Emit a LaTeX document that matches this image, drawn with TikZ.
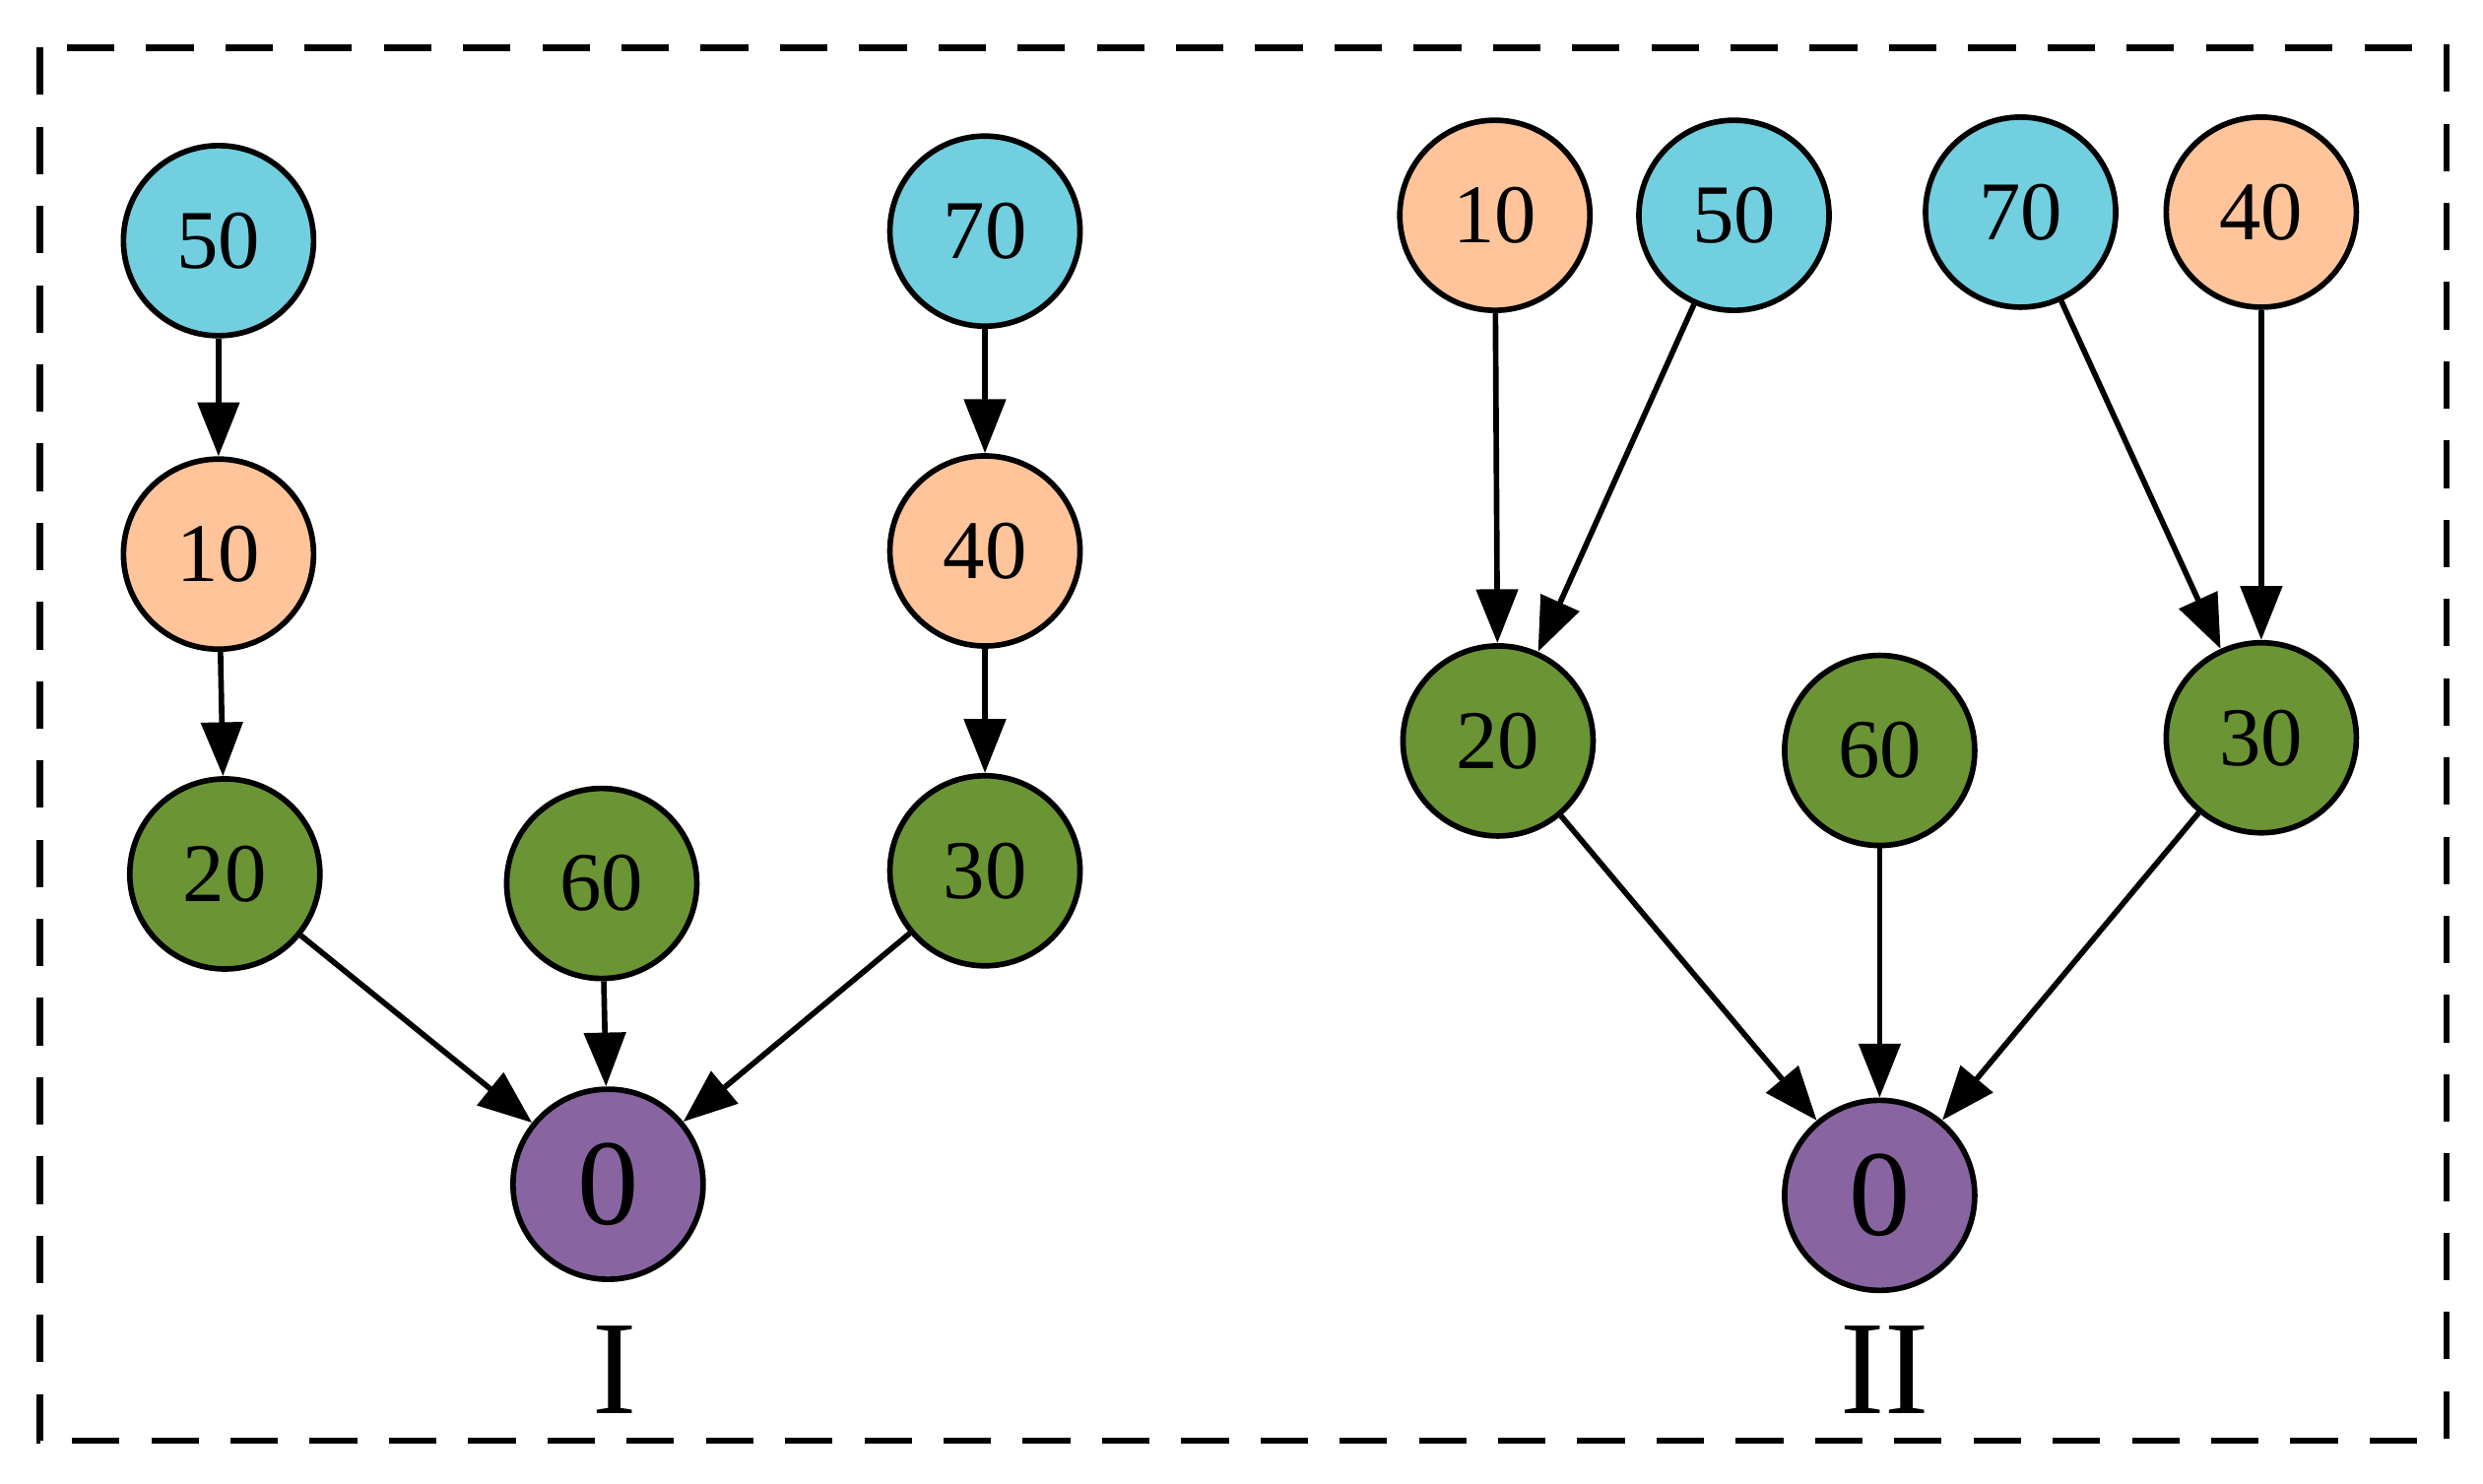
\documentclass[tikz,border=0pt]{standalone}
\usepackage{fontspec}
\setmainfont{Liberation Serif}
\usetikzlibrary{arrows.meta}
\definecolor{cyanfill}{HTML}{72CFDF}
\definecolor{orangefill}{HTML}{FFC499}
\definecolor{greenfill}{HTML}{6B9434}
\definecolor{purplefill}{HTML}{8865A0}
\begin{document}
\begin{tikzpicture}[x=0.01cm, y=-0.01cm,
    vtx/.style={circle, draw, line width=1pt, minimum size=1.2cm, inner sep=0pt, font=\fontsize{15}{15}\selectfont},
    root/.style={vtx, fill=purplefill, font=\fontsize{22}{22}\selectfont},
    arr/.style={-{Triangle[length=0.34cm, width=0.26cm]}, line width=1pt}]
        \useasboundingbox (0,0) rectangle (1568,937);
        % Frame
        \draw[line width=1.2pt, dash pattern=on 0.3cm off 0.2cm] (25,30) rectangle (1545,910);

        % Tree I
        \node[vtx, fill=cyanfill] (a50) at (138,152) {50};
        \node[vtx, fill=orangefill] (a10) at (138,350) {10};
        \node[vtx, fill=greenfill] (a20) at (142,552) {20};
        \node[vtx, fill=greenfill] (a60) at (380,558) {60};
        \node[root] (a0) at (384,748) {0};
        \node[vtx, fill=cyanfill] (a70) at (622,146) {70};
        \node[vtx, fill=orangefill] (a40) at (622,348) {40};
        \node[vtx, fill=greenfill] (a30) at (622,550) {30};
        \node[font=\fontsize{24}{24}\selectfont] (labI) at (388,865) {I};

        \draw[arr] (a50) -- (a10);
        \draw[arr] (a10) -- (a20);
        \draw[arr] (a70) -- (a40);
        \draw[arr] (a40) -- (a30);
        \draw[arr] (a20) -- (a0);
        \draw[arr] (a60) -- (a0);
        \draw[arr] (a30) -- (a0);

        % Tree II
        \node[vtx, fill=orangefill] (b10) at (944,136) {10};
        \node[vtx, fill=cyanfill] (b50) at (1095,136) {50};
        \node[vtx, fill=cyanfill] (b70) at (1276,134) {70};
        \node[vtx, fill=orangefill] (b40) at (1428,134) {40};
        \node[vtx, fill=greenfill] (b20) at (946,468) {20};
        \node[vtx, fill=greenfill] (b60) at (1187,474) {60};
        \node[vtx, fill=greenfill] (b30) at (1428,466) {30};
        \node[root] (b0) at (1187,755) {0};
        \node[font=\fontsize{24}{24}\selectfont] (labII) at (1190,865) {II};

        \draw[arr] (b10) -- (b20);
        \draw[arr] (b50) -- (b20);
        \draw[arr] (b70) -- (b30);
        \draw[arr] (b40) -- (b30);
        \draw[arr] (b20) -- (b0);
        \draw[arr] (b60) -- (b0);
        \draw[arr] (b30) -- (b0);
    \end{tikzpicture}
\end{document}
